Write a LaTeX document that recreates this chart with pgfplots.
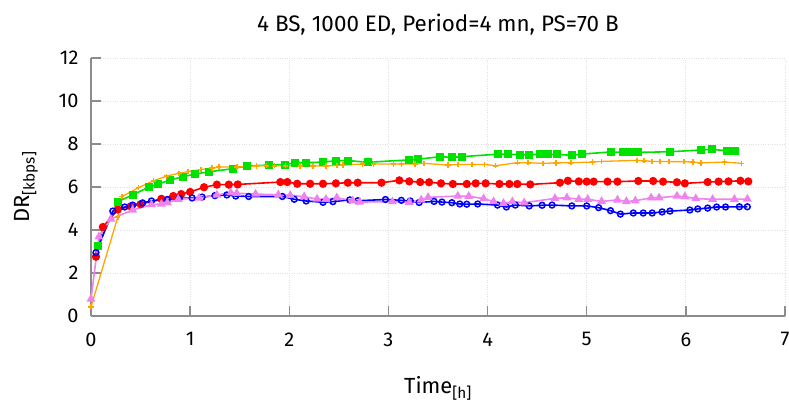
\documentclass[border=0pt]{standalone}
\usepackage{pgfplots}
\pgfplotsset{compat=1.18}
\usepackage{fontspec}
\setmainfont{Fira Sans}
\definecolor{cgreen}{RGB}{0,225,0}
\definecolor{corange}{RGB}{255,165,0}
\definecolor{cviolet}{RGB}{238,130,238}
\definecolor{axgray}{RGB}{140,140,140}
\begin{document}
\begin{tikzpicture}
\begin{axis}[
  scale only axis, width=694bp, height=258bp,
  xmin=0, xmax=7, ymin=0, ymax=12,
  xtick={0,1,...,7}, ytick={0,2,...,12},
  axis lines=left,
  axis line style={-, axgray, line width=1.6bp},
  tick style={axgray, line width=1.4bp},
  tick align=inside, major tick length=10bp,
  grid=major, grid style={dotted, black!12, line width=0.9bp},
  /pgf/number format/assume math mode=true,
  ticklabel style={font=\fontsize{20}{24}\selectfont},
  xticklabel style={yshift=-13bp},
  yticklabel style={xshift=-9bp},
  xlabel={Time\textsubscript{[h]}}, ylabel={DR\textsubscript{[kbps]}},
  label style={font=\fontsize{22}{26}\selectfont},
  xlabel style={yshift=-23bp},
  ylabel style={yshift=14bp},
  title={4 BS, 1000 ED, Period=4 mn, PS=70 B},
  title style={font=\fontsize{22.5}{24}\selectfont, yshift=13bp},
  clip=false,
]
\addplot[red, line width=1.6bp, mark=*, mark size=3.3bp] coordinates {
(0.05,2.76) (0.12,4.14) (0.27,4.95) (0.40,5.10) (0.50,5.20) (0.71,5.45) (0.83,5.58) (0.91,5.67) (1.00,5.77) (1.14,5.99) (1.27,6.11) (1.39,6.11) (1.48,6.12) (1.91,6.23) (1.98,6.23) (2.08,6.15) (2.21,6.15) (2.34,6.15) (2.47,6.17) (2.59,6.20) (2.69,6.20) (2.93,6.20) (3.11,6.31) (3.21,6.26) (3.32,6.23) (3.41,6.22) (3.53,6.17) (3.65,6.14) (3.79,6.14) (3.88,6.17) (3.98,6.17) (4.12,6.14) (4.22,6.14) (4.30,6.14) (4.43,6.12) (4.73,6.20) (4.81,6.29) (4.92,6.26) (5.00,6.25) (5.07,6.25) (5.21,6.25) (5.31,6.25) (5.52,6.28) (5.67,6.28) (5.77,6.25) (5.91,6.22) (5.99,6.17) (6.22,6.23) (6.33,6.25) (6.43,6.26) (6.55,6.29) (6.63,6.26)
};
\addplot[cgreen, line width=1.6bp, mark=square*, mark size=3.2bp] coordinates {
(0.07,3.26) (0.27,5.32) (0.42,5.63) (0.58,5.99) (0.68,6.14) (0.80,6.33) (0.93,6.48) (1.05,6.60) (1.19,6.71) (1.43,6.85) (1.57,6.98) (1.80,7.02) (1.96,7.04) (2.06,7.13) (2.17,7.13) (2.34,7.16) (2.47,7.22) (2.59,7.23) (2.79,7.15) (3.21,7.26) (3.30,7.29) (3.52,7.41) (3.64,7.38) (3.74,7.41) (4.11,7.53) (4.21,7.53) (4.33,7.50) (4.42,7.50) (4.53,7.52) (4.61,7.52) (4.70,7.52) (4.85,7.47) (4.95,7.53) (5.24,7.63) (5.37,7.61) (5.45,7.61) (5.52,7.61) (5.84,7.64) (6.15,7.72) (6.26,7.75) (6.41,7.69) (6.50,7.69)
};
\addplot[blue, line width=1.6bp, mark=o, mark size=2.9bp, mark options={line width=1.5bp}] coordinates {
(0.05,2.95) (0.22,4.88) (0.34,5.07) (0.42,5.16) (0.52,5.26) (0.61,5.35) (0.77,5.42) (0.89,5.47) (1.02,5.49) (1.12,5.53) (1.25,5.60) (1.37,5.63) (1.46,5.58) (1.59,5.56) (1.93,5.56) (2.05,5.43) (2.17,5.35) (2.34,5.29) (2.44,5.32) (2.61,5.40) (2.69,5.36) (2.97,5.42) (3.13,5.38) (3.22,5.35) (3.31,5.28) (3.46,5.33) (3.54,5.30) (3.64,5.27) (3.72,5.21) (3.79,5.20) (3.90,5.21) (4.10,5.16) (4.19,5.07) (4.28,5.16) (4.42,5.12) (4.55,5.15) (4.65,5.16) (4.85,5.12) (5.00,5.12) (5.12,5.04) (5.24,4.90) (5.34,4.74) (5.47,4.79) (5.57,4.79) (5.66,4.79) (5.76,4.84) (5.84,4.88) (6.04,4.93) (6.12,4.98) (6.22,5.02) (6.31,5.07) (6.40,5.07) (6.54,5.08) (6.62,5.08)
};
\addplot[corange, line width=1.3bp, mark=+, mark size=2.6bp, mark options={line width=1.6bp}] coordinates {
(0.00,0.43) (0.27,4.60) (0.31,5.55) (0.48,5.97) (0.63,6.29) (0.76,6.50) (0.89,6.64) (0.98,6.72) (1.11,6.81) (1.22,6.88) (1.29,6.93) (1.47,6.93) (1.67,6.98) (1.77,6.99) (1.85,6.99) (1.96,6.99) (2.11,6.98) (2.24,6.98) (2.37,6.98) (2.48,7.00) (2.54,7.02) (2.74,7.07) (2.85,7.07) (3.05,7.07) (3.13,7.07) (3.27,7.07) (3.36,7.10) (3.60,7.02) (3.70,7.05) (3.84,7.05) (3.97,7.05) (4.08,6.99) (4.30,7.13) (4.41,7.13) (4.56,7.10) (4.69,7.12) (4.84,7.13) (5.06,7.16) (5.15,7.19) (5.51,7.24) (5.58,7.22) (5.66,7.19) (5.74,7.19) (5.83,7.18) (5.98,7.18) (6.07,7.16) (6.15,7.12) (6.39,7.16) (6.56,7.10)
};
\addplot[cviolet, line width=1.6bp, mark=triangle*, mark size=3.6bp] coordinates {
(0.00,0.79) (0.08,3.69) (0.20,4.51) (0.42,4.93) (0.61,5.18) (0.71,5.21) (0.77,5.27) (0.88,5.43) (1.09,5.49) (1.27,5.63) (1.41,5.73) (1.47,5.71) (1.66,5.67) (1.89,5.64) (2.01,5.61) (2.15,5.55) (2.28,5.44) (2.37,5.43) (2.48,5.50) (2.64,5.36) (2.71,5.30) (3.04,5.32) (3.21,5.29) (3.33,5.40) (3.40,5.52) (3.70,5.58) (3.81,5.57) (3.96,5.46) (4.06,5.32) (4.16,5.24) (4.25,5.32) (4.37,5.27) (4.68,5.47) (4.80,5.50) (4.92,5.43) (5.01,5.43) (5.15,5.33) (5.31,5.40) (5.40,5.33) (5.49,5.36) (5.65,5.50) (5.73,5.50) (5.91,5.58) (5.99,5.55) (6.10,5.46) (6.27,5.43) (6.49,5.43) (6.62,5.44)
};
\end{axis}
\pgfresetboundingbox
\path ([shift={(-91bp,-91bp)}]current axis.south west) rectangle ([shift={(4bp,58bp)}]current axis.north east);
\end{tikzpicture}
\end{document}
